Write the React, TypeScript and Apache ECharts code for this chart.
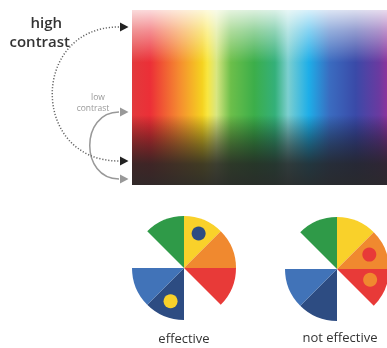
import React, { useEffect, useRef } from "react";
import * as echarts from "echarts";

// Spectrum (hue) stops across the gradient panel
const hueOffsets = [0, 0.07, 0.18, 0.27, 0.29, 0.325, 0.38, 0.47, 0.55, 0.6, 0.68, 0.76, 0.86, 0.95, 1];
const hueColors = ["#e23a3c", "#ec2f37", "#f58a30", "#f5d220", "#f8e640", "#d8e680", "#6cbf4a", "#3cae4a", "#34b07a", "#7ccfcf", "#1eaee8", "#3a6cc0", "#3a4aa8", "#6a3aa0", "#a0309a"];
// Lightness overlay stops (top = light, bottom = dark)
const shadeOffsets = [0, 0.12, 0.3, 0.6, 0.77, 0.88, 1];
const shadeColors = ["rgba(255,255,255,0.82)", "rgba(255,255,255,0.45)", "rgba(255,255,255,0)", "rgba(0,0,0,0)", "rgba(25,25,25,0.55)", "rgba(35,35,35,0.86)", "rgba(40,40,40,0.95)"];

// Pie slices (each 45°), clockwise from north; null colour = gap
const sliceNames = ["yellow", "orange", "red", "gap1", "darkblue", "lightblue", "gap2", "green"];
const sliceValues = [1, 1, 1, 1, 1, 1, 1, 1];
const sliceColors = ["#f9d12a", "#f0892f", "#e83a38", null, "#2d4c82", "#4173b8", null, "#2f9a48"];

// Dots: [radius fraction, angle in degrees clockwise from north]
const effectiveDots = [[0.72, 23], [0.69, 202]];
const effectiveDotColors = ["#2d4c82", "#f9d12a"];
const notEffectiveDots = [[0.68, 66], [0.67, 108]];
const notEffectiveDotColors = ["#e83a38", "#f0892f"];

const pieLabels = ["effective", "not effective"];

export default function App() {
  const ref = useRef<HTMLDivElement>(null);
  useEffect(() => {
    if (!ref.current) return;
    const chart = echarts.init(ref.current, null, { renderer: "svg" });
    const pieData = sliceNames.map((n, i) => ({
      name: n,
      value: sliceValues[i],
      itemStyle: { color: sliceColors[i] || "rgba(0,0,0,0)" },
    }));
    const centers = [[184, 268], [337, 269]];
    const R = 52;
    const font = "'Open Sans', sans-serif";
    const arrow = (x: number, y: number, color: string) => ({
      type: "polygon",
      shape: { points: [[x - 8, y - 4.5], [x + 0.5, y], [x - 8, y + 4.5]] },
      style: { fill: color },
      z: 10,
    });
    chart.setOption({
      animation: false,
      polar: centers.map((c) => ({ center: c, radius: R })),
      angleAxis: centers.map((_, i) => ({
        polarIndex: i, min: 0, max: 360, startAngle: 90, clockwise: true, show: false,
      })),
      radiusAxis: centers.map((_, i) => ({ polarIndex: i, min: 0, max: 1, show: false })),
      series: [
        {
          type: "pie", center: centers[0], radius: R, startAngle: 90, clockwise: true,
          label: { show: false }, labelLine: { show: false }, silent: true, data: pieData, z: 1,
        },
        {
          type: "pie", center: centers[1], radius: R, startAngle: 90, clockwise: true,
          label: { show: false }, labelLine: { show: false }, silent: true, data: pieData, z: 1,
        },
        {
          type: "scatter", coordinateSystem: "polar", polarIndex: 0, symbolSize: 14, z: 5,
          data: effectiveDots.map((d, i) => ({ value: d, itemStyle: { color: effectiveDotColors[i], opacity: 1 } })),
        },
        {
          type: "scatter", coordinateSystem: "polar", polarIndex: 1, symbolSize: 14, z: 5,
          data: notEffectiveDots.map((d, i) => ({ value: d, itemStyle: { color: notEffectiveDotColors[i], opacity: 1 } })),
        },
      ],
      graphic: [
        {
          type: "rect", shape: { x: 132, y: 10, width: 260, height: 175 },
          style: {
            fill: new echarts.graphic.LinearGradient(0, 0, 1, 0,
              hueOffsets.map((o, i) => ({ offset: o, color: hueColors[i] }))),
          },
        },
        {
          type: "rect", shape: { x: 132, y: 10, width: 260, height: 175 },
          style: {
            fill: new echarts.graphic.LinearGradient(0, 0, 0, 1,
              shadeOffsets.map((o, i) => ({ offset: o, color: shadeColors[i] }))),
          },
        },
        {
          type: "text",
          style: { text: "high", x: 62, y: 21.5, align: "right", verticalAlign: "middle", fill: "#333", font: `600 15px ${font}` },
        },
        {
          type: "text",
          style: { text: "contrast", x: 70, y: 40.5, align: "right", verticalAlign: "middle", fill: "#333", font: `600 15px ${font}` },
        },
        {
          type: "text",
          style: { text: "low", x: 98, y: 96.5, align: "center", verticalAlign: "middle", fill: "#999", font: `8.5px ${font}` },
        },
        {
          type: "text",
          style: { text: "contrast", x: 93, y: 107.5, align: "center", verticalAlign: "middle", fill: "#999", font: `8.5px ${font}` },
        },
        {
          type: "bezierCurve",
          shape: { x1: 119, y1: 112, cpx1: 80, cpy1: 112, cpx2: 80, cpy2: 179, x2: 119, y2: 179 },
          style: { stroke: "#999", lineWidth: 1.5, fill: null },
        },
        {
          type: "bezierCurve",
          shape: { x1: 119, y1: 27, cpx1: 30, cpy1: 27, cpx2: 30, cpy2: 161, x2: 119, y2: 161 },
          style: { stroke: "#666", lineWidth: 1.5, lineDash: [1.2, 1.8], fill: null },
          z: 3,
        },
        arrow(128, 27, "#222"),
        arrow(128, 161, "#222"),
        arrow(128, 112, "#999"),
        arrow(128, 179, "#999"),
        {
          type: "text", style: { text: pieLabels[0], x: 184, y: 338, align: "center", verticalAlign: "middle", fill: "#333", font: `13px ${font}` },
        },
        {
          type: "text", style: { text: pieLabels[1], x: 340, y: 337, align: "center", verticalAlign: "middle", fill: "#333", font: `13px ${font}` },
        },
      ],
    });
    return () => chart.dispose();
  }, []);
  return <div ref={ref} style={{ position: "fixed", left: 0, top: 0, width: 387, height: 348 }} />;
}
